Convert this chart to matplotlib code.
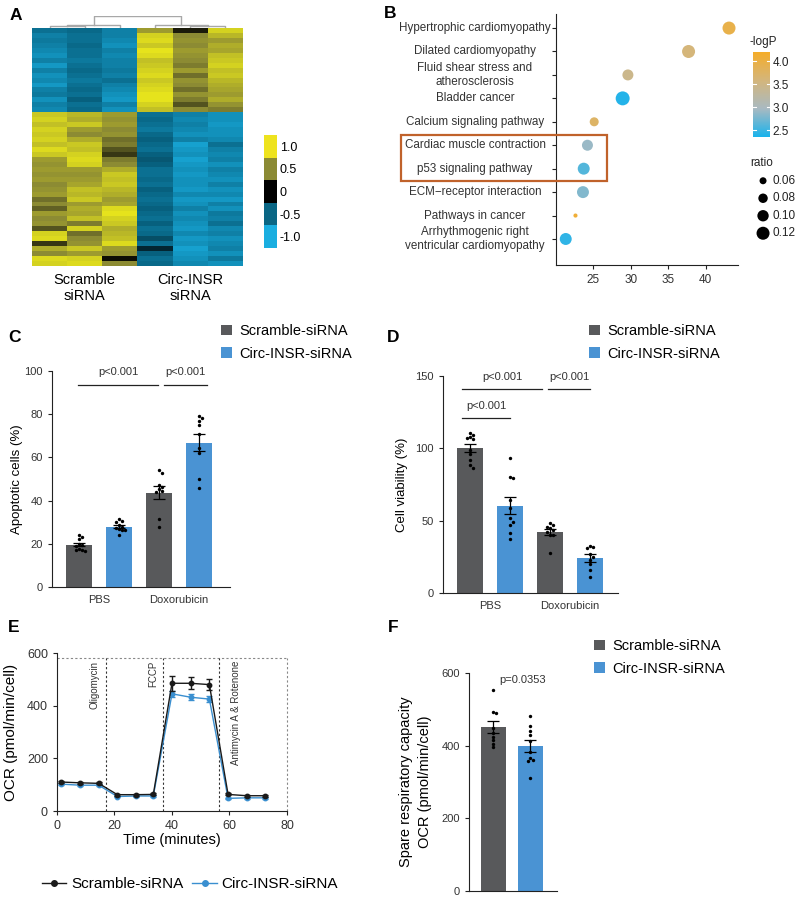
import numpy as np
import matplotlib
matplotlib.use('Agg')
import matplotlib.pyplot as plt
import matplotlib.transforms as mtransforms
from matplotlib.colors import LinearSegmentedColormap, ListedColormap, Normalize
from matplotlib.lines import Line2D
from matplotlib.patches import Rectangle, Patch

plt.rcParams['font.family'] = ['Liberation Sans', 'DejaVu Sans']

# ---------------- data ----------------
# A: heatmap (rows = genes, cols = Scramble x3, Circ-INSR x3)
heat_groups = ['Scramble\nsiRNA', 'Circ-INSR\nsiRNA']
heat = [
    [-0.60, -0.55, -0.70, 0.60, 0.10, 0.90],
    [-0.70, -0.60, -0.70, 0.90, 0.50, 0.75],
    [-0.65, -0.60, -0.75, 0.95, 0.55, 0.60],
    [-0.70, -0.55, -0.80, 0.85, 0.50, 0.70],
    [-0.75, -0.60, -0.70, 1.00, 0.60, 0.65],
    [-0.80, -0.60, -0.75, 0.95, 0.55, 0.80],
    [-0.70, -0.65, -0.70, 0.80, 0.50, 0.85],
    [-0.85, -0.60, -0.70, 0.85, 0.45, 0.90],
    [-0.70, -0.55, -0.65, 0.90, 0.60, 0.80],
    [-0.80, -0.60, -0.70, 0.95, 0.40, 0.85],
    [-0.75, -0.65, -0.60, 0.85, 0.55, 0.75],
    [-0.85, -0.60, -0.70, 0.90, 0.50, 0.70],
    [-0.70, -0.55, -0.75, 0.95, 0.40, 0.65],
    [-0.65, -0.60, -0.80, 1.00, 0.55, 0.60],
    [-0.80, -0.50, -0.85, 1.00, 0.45, 0.70],
    [-0.70, -0.60, -0.70, 0.90, 0.30, 0.55],
    [-0.75, -0.55, -0.80, 0.80, 0.50, 0.45],
    [0.85, 0.75, 0.60, -0.60, -0.70, -0.80],
    [0.90, 0.70, 0.55, -0.55, -0.75, -0.80],
    [0.80, 0.85, 0.60, -0.60, -0.70, -0.85],
    [0.90, 0.60, 0.50, -0.65, -0.75, -0.80],
    [0.85, 0.50, 0.55, -0.55, -0.80, -0.80],
    [0.90, 0.70, 0.40, -0.50, -0.70, -0.75],
    [0.80, 0.85, 0.45, -0.55, -0.90, -0.60],
    [0.95, 0.80, 0.30, -0.60, -0.85, -0.70],
    [0.85, 0.90, 0.20, -0.50, -0.80, -0.75],
    [0.60, 0.95, 0.45, -0.45, -0.90, -0.70],
    [0.55, 0.90, 0.50, -0.50, -0.85, -0.80],
    [0.60, 0.60, 0.70, -0.60, -0.80, -0.70],
    [0.55, 0.55, 0.85, -0.60, -0.85, -0.75],
    [0.60, 0.60, 0.80, -0.55, -0.80, -0.80],
    [0.50, 0.65, 0.85, -0.60, -0.80, -0.70],
    [0.55, 0.80, 0.75, -0.50, -0.85, -0.80],
    [0.60, 0.75, 0.70, -0.55, -0.75, -0.75],
    [0.40, 0.85, 0.60, -0.60, -0.85, -0.85],
    [0.50, 0.60, 0.65, -0.55, -0.80, -0.70],
    [0.35, 0.70, 0.95, -0.50, -0.70, -0.80],
    [0.60, 0.65, 1.00, -0.55, -0.80, -0.65],
    [0.50, 0.80, 0.90, -0.60, -0.75, -0.70],
    [0.55, 0.45, 0.85, -0.50, -0.80, -0.60],
    [0.30, 0.90, 0.70, -0.60, -0.85, -0.75],
    [0.90, 0.40, 0.75, -0.55, -0.75, -0.70],
    [0.95, 0.50, 0.80, -0.40, -0.85, -0.80],
    [0.20, 0.55, 0.95, -0.60, -0.80, -0.75],
    [0.70, 0.85, 0.60, -0.20, -0.90, -0.70],
    [0.50, 0.60, 0.55, -0.50, -0.85, -0.80],
    [0.95, 0.90, 0.05, -0.60, -0.80, -0.65],
    [0.90, 0.95, 0.50, -0.55, -0.75, -0.80],
]
heat_tick_labels = ['1.0', '0.5', '0', '-0.5', '-1.0']

# B: KEGG enrichment
pathways = ['Hypertrophic cardiomyopathy', 'Dilated cardiomyopathy',
            'Fluid shear stress and\natherosclerosis', 'Bladder cancer',
            'Calcium signaling pathway', 'Cardiac muscle contraction',
            'p53 signaling pathway', 'ECM\u2212receptor interaction',
            'Pathways in cancer', 'Arrhythmogenic right\nventricular cardiomyopathy']
path_x = [43.1, 37.7, 29.6, 28.9, 25.1, 24.2, 23.7, 23.6, 22.6, 21.3]
path_logp = [3.95, 3.6, 3.45, 2.4, 3.75, 2.9, 2.6, 2.8, 4.1, 2.45]
path_ratio = [0.12, 0.12, 0.096, 0.133, 0.076, 0.096, 0.107, 0.107, 0.044, 0.107]
highlighted = ['Cardiac muscle contraction', 'p53 signaling pathway']
ratio_legend = [0.06, 0.08, 0.10, 0.12]
logp_ticks = [2.5, 3.0, 3.5, 4.0]

# C: apoptosis
groups = ['PBS', 'Doxorubicin']
series = ['Scramble-siRNA', 'Circ-INSR-siRNA']
apop_pbs_scr = [24.1, 23.1, 22.1, 20.0, 19.5, 19.0, 17.6, 17.3, 17.0, 16.8]
apop_pbs_circ = [31.5, 30.7, 30.1, 28.8, 27.9, 27.3, 27.0, 26.5, 26.2, 24.0]
apop_dox_scr = [54.2, 52.9, 47.1, 46.1, 45.3, 44.5, 44.0, 31.6, 27.6]
apop_dox_circ = [79.2, 78.1, 77.0, 74.8, 70.7, 64.2, 61.9, 49.8, 46.0]

# D: viability
via_pbs_scr = [110.8, 109.2, 108.0, 107.0, 106.2, 98.8, 95.9, 91.9, 88.5, 86.6]
via_pbs_circ = [93.1, 80.4, 79.3, 64.3, 58.5, 51.6, 49.3, 47.0, 41.2, 37.1]
via_dox_scr = [48.2, 47.0, 45.9, 44.7, 43.5, 42.5, 40.1, 40.1, 27.4]
via_dox_circ = [32.5, 32.0, 30.9, 27.0, 25.1, 22.8, 20.0, 15.9, 11.3]

# E: seahorse OCR
time_min = [1.5, 8, 14.5, 21, 27.5, 33.5, 40, 46.5, 53, 59.5, 66, 72.5]
ocr_scr = [110, 107, 105, 62, 62, 63, 485, 485, 480, 63, 58, 58]
ocr_scr_err = [5, 4, 4, 4, 4, 4, 28, 22, 20, 4, 3, 3]
ocr_circ = [102, 98, 98, 55, 57, 57, 445, 432, 425, 48, 50, 50]
ocr_circ_err = [4, 4, 4, 3, 3, 3, 12, 12, 12, 3, 3, 3]
injections = ['Oligomycin', 'FCCP', 'Antimycin A & Rotenone']
inject_time = [17, 37, 56.5]

# F: spare respiratory capacity
src_scr = [553, 494, 491, 448, 434, 425, 416, 405, 397]
src_circ = [482, 454, 441, 428, 413, 383, 365, 361, 359, 310]

GRAY = '#58595b'
BLUE = '#4a93d3'

fig = plt.figure(figsize=(8, 9), dpi=100)


def box(l, t, r, b):
    # pixel box -> figure fraction
    return [l / 800, 1 - b / 900, (r - l) / 800, (b - t) / 900]


def swarm(vals, ybin, step):
    placed = []
    offs = []
    cands = [0]
    for i in range(1, 8):
        cands += [i * step, -i * step]
    for v in vals:
        k = 0
        for c in cands:
            if all(abs(c - pc) >= step * 0.95 or abs(v - pv) >= ybin for pc, pv in placed):
                k = c
                break
        placed.append((k, v))
        offs.append(k)
    return np.array(offs)


def style_axes(ax, size=8):
    for s in ['top', 'right']:
        ax.spines[s].set_visible(False)
    for s in ['left', 'bottom']:
        ax.spines[s].set_linewidth(0.8)
        ax.spines[s].set_color('#222222')
    ax.tick_params(length=3, width=0.8, labelsize=size, colors='#222222', labelcolor='#333333')


def bar_panel(ax, data, ybin):
    for i, vals in enumerate(data):
        vals = np.array(vals)
        m = vals.mean()
        sem = vals.std(ddof=1) / np.sqrt(len(vals))
        ax.bar(i, m, width=0.65, color=GRAY if i % 2 == 0 else BLUE, zorder=1)
        ax.errorbar(i, m, yerr=sem, color='black', lw=0.9, capsize=4.5, capthick=0.9, zorder=3)
        ax.scatter(i + swarm(vals, ybin, 0.07), vals, s=6, color='black', zorder=4, lw=0)


def bar_legend(ax, x, y):
    handles = [Patch(facecolor=GRAY, label=series[0]), Patch(facecolor=BLUE, label=series[1])]
    ax.legend(handles=handles, loc='upper left', bbox_to_anchor=(x / 800, 1 - y / 900),
              bbox_transform=fig.transFigure, frameon=False, fontsize=10.5,
              handlelength=0.75, handleheight=0.75, handletextpad=0.5,
              labelspacing=0.6, borderpad=0, borderaxespad=0)


# ---------------- A ----------------
hmap = LinearSegmentedColormap.from_list(
    'hm', [(0, '#1ab0e2'), (0.25, '#08617f'), (0.5, '#000000'), (0.75, '#8b8a34'), (1, '#e6e31c')])
axA = fig.add_axes(box(32, 28, 243, 266))
axA.imshow(np.array(heat), cmap=hmap, vmin=-1, vmax=1, aspect='auto', interpolation='nearest')
axA.set_yticks([])
axA.set_xticks([1, 4])
axA.set_xticklabels(heat_groups, fontsize=10.5, linespacing=1.15)
axA.tick_params(axis='x', length=0, pad=5)
for s in axA.spines.values():
    s.set_visible(False)

# dendrogram
axDen = fig.add_axes(box(32, 16, 243, 28))
axDen.set_xlim(-0.5, 5.5)
axDen.set_ylim(0, 1)
axDen.axis('off')
dc = '#a8a8a8'
for a, b, h, ha_, hb in [(0, 1, 0.15, 0, 0), (0.5, 2, 0.25, 0.15, 0),
                         (4, 5, 0.15, 0, 0), (3, 4.5, 0.25, 0, 0.15), (1.25, 3.75, 1.0, 0.25, 0.25)]:
    axDen.plot([a, a, b, b], [ha_, h, h, hb], color=dc, lw=1)

# colour key A
axAc = fig.add_axes(box(264, 135, 277, 248))
key_cmap = ListedColormap(['#eee31e', '#8b8a34', '#000000', '#0a6684', '#1aaee0'])
axAc.imshow(np.arange(5).reshape(5, 1), cmap=key_cmap, aspect='auto')
axAc.set_xticks([])
axAc.yaxis.tick_right()
axAc.set_yticks(range(5))
axAc.set_yticklabels(heat_tick_labels, fontsize=9)
axAc.tick_params(axis='y', length=0, pad=2)
for s in axAc.spines.values():
    s.set_visible(False)

# ---------------- B ----------------
logp_cmap = LinearSegmentedColormap.from_list('lp', ['#1ab3ec', '#a9bac2', '#d4b67c', '#f5ad2a'])
lp_norm = Normalize(2.35, 4.2)


def dot_size(r):
    return 0.5184 * (49 + 2000 * (np.asarray(r) - 0.06))


axB = fig.add_axes(box(556, 14, 738, 265))
ypos = np.arange(len(pathways))
axB.scatter(path_x, ypos, s=dot_size(path_ratio), c=path_logp, cmap=logp_cmap, norm=lp_norm,
            lw=0, zorder=3)
axB.set_xlim(20.0, 44.3)
axB.set_ylim(len(pathways) - 1 + 1.11, -0.6)
axB.set_xticks([25, 30, 35, 40])
axB.set_yticks(ypos)
axB.set_yticklabels([])
style_axes(axB, 8.5)
for y, lab in zip(ypos, pathways):
    axB.text(-0.445, y, lab, transform=axB.get_yaxis_transform(), ha='center', va='center',
             fontsize=8.4, color='#333333', linespacing=1.25)
# highlight box around the two selected pathways
hl = [pathways.index(p) for p in highlighted]
trB = mtransforms.blended_transform_factory(fig.transFigure, axB.transData)
fig.patches.append(Rectangle((401 / 800, min(hl) - 0.43), 206 / 800, max(hl) - min(hl) + 0.94,
                             fill=False, edgecolor='#c0622b', lw=1.6, transform=trB, figure=fig))

axBc = fig.add_axes(box(753, 52, 770, 137))
grad = np.linspace(4.2, 2.35, 200).reshape(-1, 1)
axBc.imshow(grad, cmap=logp_cmap, norm=lp_norm, aspect='auto', extent=[0, 1, 2.35, 4.2])
axBc.set_xticks([])
axBc.yaxis.tick_right()
axBc.set_yticks(logp_ticks)
axBc.set_yticklabels(['2.5', '3.0', '3.5', '4.0'], fontsize=8.5)
axBc.tick_params(axis='y', length=0, pad=2, labelcolor='#222222')
for t in logp_ticks:
    axBc.plot([0, 0.2], [t, t], color='white', lw=0.8)
    axBc.plot([0.8, 1], [t, t], color='white', lw=0.8)
for s in axBc.spines.values():
    s.set_visible(False)
fig.text(750 / 800, 1 - 42 / 900, '-logP', fontsize=8.5, va='center', color='#222222', zorder=10)

axR = fig.add_axes(box(752, 172, 800, 242))
axR.set_xlim(0, 1)
axR.set_ylim(len(ratio_legend) - 0.5, -0.5)
axR.axis('off')
axR.scatter([0.23] * len(ratio_legend), range(len(ratio_legend)), s=dot_size(ratio_legend),
            color='black', lw=0)
for i, r in enumerate(ratio_legend):
    axR.text(0.42, i, f'{r:.2f}', fontsize=8.5, va='center', color='#222222')
fig.text(750 / 800, 1 - 163 / 900, 'ratio', fontsize=8.5, va='center', color='#222222', zorder=10)

# ---------------- C ----------------
axC = fig.add_axes(box(52, 371, 230, 587))
bar_panel(axC, [apop_pbs_scr, apop_pbs_circ, apop_dox_scr, apop_dox_circ], ybin=1.6)
axC.set_xlim(-0.675, 3.775)
axC.set_ylim(0, 100)
axC.set_yticks([0, 20, 40, 60, 80, 100])
axC.set_xticks([0.5, 2.5])
axC.set_xticklabels(groups)
style_axes(axC)
axC.tick_params(axis='x', length=0, pad=6)
axC.set_ylabel('Apoptotic cells (%)', fontsize=9.5)
axC.yaxis.set_label_coords(-0.165, 0.5)
for x0, x1 in [(-0.02, 1.97), (2.12, 3.2)]:
    axC.plot([x0, x1], [93.5, 93.5], color='#222222', lw=0.9, clip_on=False)
    axC.text((x0 + x1) / 2, 99.5, 'p<0.001', ha='center', va='center', fontsize=8, color='#333333')
bar_legend(axC, 221, 324)

# ---------------- D ----------------
axD = fig.add_axes(box(443, 376, 618, 593))
bar_panel(axD, [via_pbs_scr, via_pbs_circ, via_dox_scr, via_dox_circ], ybin=2.4)
axD.set_xlim(-0.675, 3.7)
axD.set_ylim(0, 150)
axD.set_yticks([0, 50, 100, 150])
axD.set_xticks([0.5, 2.5])
axD.set_xticklabels(groups)
style_axes(axD)
axD.tick_params(axis='x', length=0, pad=6)
axD.set_ylabel('Cell viability (%)', fontsize=9.5)
axD.yaxis.set_label_coords(-0.2, 0.5)
for x0, x1, yl, yt in [(-0.2, 1.8, 141, 149.5), (1.95, 3.0, 141, 149.5), (-0.2, 1.0, 121, 129.5)]:
    axD.plot([x0, x1], [yl, yl], color='#222222', lw=0.9, clip_on=False)
    axD.text((x0 + x1) / 2, yt, 'p<0.001', ha='center', va='center', fontsize=8, color='#333333')
bar_legend(axD, 589, 324)

# ---------------- E ----------------
axE = fig.add_axes(box(57, 653, 287, 811))
axE.errorbar(time_min, ocr_scr, yerr=ocr_scr_err, color='#1a1a1a', lw=1, marker='o', ms=3.2,
             capsize=2.5, capthick=1, elinewidth=1, zorder=3)
axE.errorbar(time_min, ocr_circ, yerr=ocr_circ_err, color='#3a8fd0', lw=1, marker='o', ms=3.2,
             capsize=2.5, capthick=1, elinewidth=1, zorder=2)
box_top = 581
axE.plot([0, 80], [box_top, box_top], ls=(0, (2, 2)), color='#888888', lw=0.8, clip_on=False)
axE.plot([80, 80], [0, box_top], ls=(0, (2, 2)), color='#888888', lw=0.8, clip_on=False)
for t, lab, dx in zip(inject_time, injections, [-3.8, -3.4, 5.6]):
    axE.plot([t, t], [0, box_top], ls=(0, (2, 2)), color='#333333', lw=0.8)
    axE.text(t + dx, 570, lab, rotation=90, ha='center', va='top', fontsize=7, color='#333333')
axE.set_xlim(0, 80)
axE.set_ylim(0, 600)
axE.set_xticks([0, 20, 40, 60, 80])
axE.set_yticks([0, 200, 400, 600])
style_axes(axE, 9)
axE.set_xlabel('Time (minutes)', fontsize=10.5, labelpad=1)
axE.set_ylabel('OCR (pmol/min/cell)', fontsize=11)
axE.yaxis.set_label_coords(-0.17, 0.5)
e_handles = [Line2D([], [], color='#1a1a1a', marker='o', ms=4, lw=1, label=series[0]),
             Line2D([], [], color='#3a8fd0', marker='o', ms=4, lw=1, label=series[1])]
axE.legend(handles=e_handles, loc='center', bbox_to_anchor=(190 / 800, 1 - 884 / 900),
           bbox_transform=fig.transFigure, ncol=2, frameon=False, fontsize=11,
           handlelength=1.6, handletextpad=0.3, columnspacing=0.6, borderpad=0)

# ---------------- F ----------------
axF = fig.add_axes(box(469, 673, 557, 891))
for i, vals in enumerate([src_scr, src_circ]):
    vals = np.array(vals)
    m = vals.mean()
    sem = vals.std(ddof=1) / np.sqrt(len(vals))
    axF.bar(i, m, width=0.68, color=GRAY if i == 0 else BLUE, zorder=1)
    axF.errorbar(i, m, yerr=sem, color='black', lw=0.9, capsize=4.5, capthick=0.9, zorder=3)
    axF.scatter(i + swarm(vals, 8, 0.07), vals, s=6, color='black', zorder=4, lw=0)
axF.set_xlim(-0.66, 1.72)
axF.set_ylim(0, 600)
axF.set_yticks([0, 200, 400, 600])
axF.set_xticks([])
style_axes(axF)
axF.text(0.8, 581, 'p=0.0353', ha='center', va='center', fontsize=8, color='#333333')
axF.set_ylabel('Spare respiratory capacity\nOCR (pmol/min/cell)', fontsize=10.5, linespacing=1.5)
axF.yaxis.set_label_coords(-0.42, 0.5)
bar_legend(axF, 594, 639)

# panel letters
for lab, x, y in [('A', 10, 16), ('B', 384, 13), ('C', 8, 338), ('D', 387, 338),
                  ('E', 8, 627), ('F', 388, 627)]:
    fig.text(x / 800, 1 - y / 900, lab, fontsize=12.5, fontweight='bold', va='center', ha='left')

fig.savefig('out.png', dpi=100)
